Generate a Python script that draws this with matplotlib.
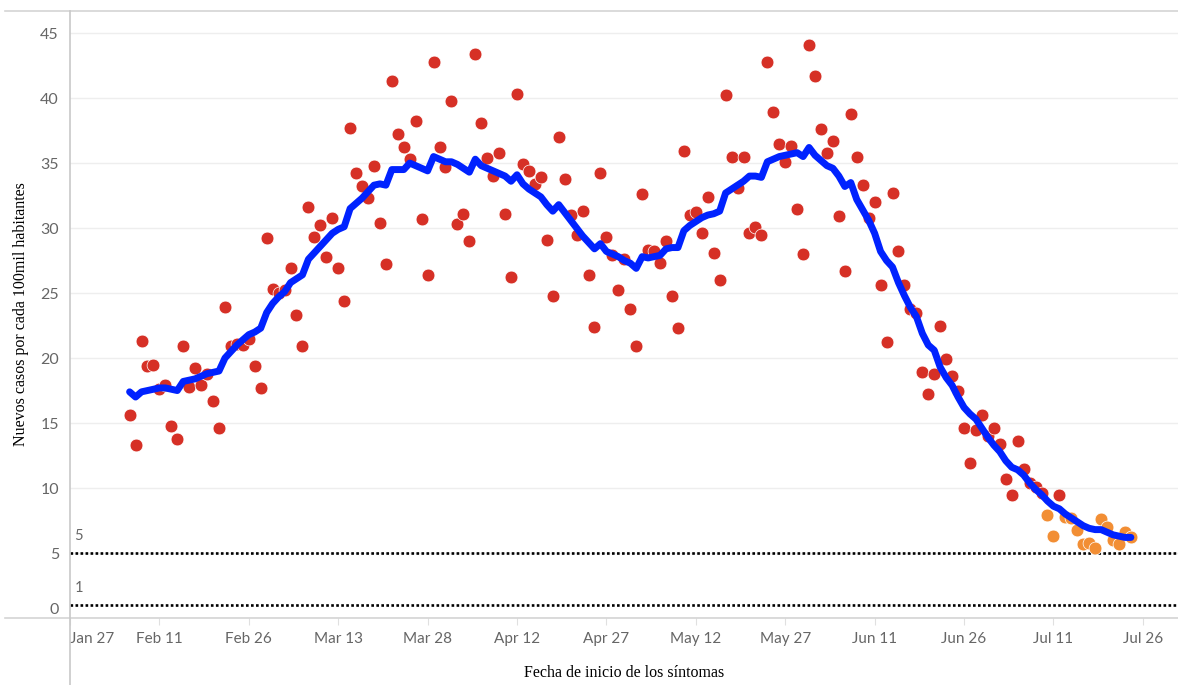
import numpy as np
import pandas as pd
import matplotlib
matplotlib.use("Agg")
import matplotlib.pyplot as plt
import matplotlib.dates as mdates
from matplotlib.lines import Line2D
from matplotlib.transforms import ScaledTranslation

# daily values, Feb 6 -> Jul 24 2021
fechas = pd.date_range("2021-02-06", "2021-07-24", freq="D")

casos = [
    15.6, 13.3, 21.3, 19.4, 19.5, 17.6, 17.9, 14.8, 13.8, 20.9, 17.8, 19.2,
    17.9, 18.8, 16.7, 14.6, 23.9, 20.9, 21.1, 21.0, 21.5, 19.4, 17.7,           # Feb
    29.2, 25.3, 25.0, 25.2, 26.9, 23.3, 20.9, 31.6, 29.3, 30.2, 27.8, 30.8,
    26.9, 24.4, 37.7, 34.2, 33.2, 32.3, 34.8, 30.4, 27.2, 41.3, 37.2, 36.2,
    35.3, 38.2, 30.7, 26.4, 42.8, 36.2, 34.7,                                   # Mar
    39.8, 30.3, 31.1, 29.0, 43.4, 38.1, 35.4, 34.0, 35.8, 31.1, 26.2, 40.3,
    34.9, 34.4, 33.4, 33.9, 29.1, 24.8, 37.0, 33.8, 31.0, 29.5, 31.3, 26.4,
    22.4, 34.2, 29.3, 27.9, 25.2, 27.6,                                         # Apr
    23.8, 20.9, 32.6, 28.3, 28.2, 27.3, 29.0, 24.8, 22.3, 35.9, 31.0, 31.2,
    29.6, 32.4, 28.1, 26.0, 40.2, 35.5, 33.1, 35.5, 29.6, 30.1, 29.5, 42.8,
    38.9, 36.5, 35.1, 36.3, 31.5, 28.0, 44.1,                                   # May
    41.7, 37.6, 35.8, 36.7, 30.9, 26.7, 38.8, 35.5, 33.3, 30.8, 32.0, 25.6,
    21.2, 32.7, 28.2, 25.6, 23.8, 23.5, 18.9, 17.2, 18.8, 22.5, 19.9, 18.6,
    17.5, 14.6, 11.9, 14.5, 15.6, 14.0,                                         # Jun
    14.6, 13.4, 10.7, 9.5, 13.6, 11.5, 10.4, 10.1, 9.6, 7.9, 6.3, 9.5,
    7.8, 7.7, 6.8, 5.7, 5.8, 5.4, 7.6, 7.0, 6.0, 5.7, 6.6, 6.2,                 # Jul
]

promedio = [
    17.4, 17.0, 17.4, 17.5, 17.6, 17.7, 17.7, 17.6, 17.5, 18.2, 18.3, 18.4,
    18.6, 18.8, 18.9, 19.0, 20.0, 20.5, 21.0, 21.4, 21.8, 22.0, 22.3,
    23.5, 24.2, 24.7, 25.1, 25.8, 26.1, 26.4, 27.6, 28.1, 28.6, 29.1, 29.6,
    29.9, 30.1, 31.5, 31.9, 32.3, 32.8, 33.3, 33.4, 33.3, 34.5, 34.5, 34.5,
    35.0, 34.8, 34.6, 34.4, 35.5, 35.3, 35.1,
    35.1, 34.9, 34.6, 34.3, 35.3, 34.8, 34.6, 34.4, 34.2, 34.0, 33.6, 34.1,
    33.4, 33.0, 32.7, 32.4, 31.8, 31.3, 31.8, 31.2, 30.6, 30.0, 29.4, 28.9,
    28.4, 28.8, 28.2, 28.0, 27.8, 27.5,
    27.3, 26.9, 27.8, 27.7, 27.8, 27.9, 28.4, 28.5, 28.5, 29.8, 30.2, 30.5,
    30.8, 31.0, 31.1, 31.3, 32.7, 33.0, 33.3, 33.6, 34.0, 34.0, 33.9, 35.1,
    35.3, 35.5, 35.6, 35.7, 35.8, 35.5, 36.2,
    35.6, 35.2, 34.8, 34.6, 34.0, 33.2, 33.5, 32.2, 31.4, 30.6, 29.6, 28.2,
    27.5, 27.0, 25.8, 24.8, 23.9, 23.2, 21.9, 21.0, 20.6, 19.3, 18.5, 17.9,
    17.0, 16.2, 15.7, 15.3, 14.6, 13.9,
    13.3, 12.8, 12.1, 11.6, 11.4, 11.0, 10.4, 9.9, 9.5, 9.0, 8.6, 8.4,
    8.0, 7.7, 7.4, 7.1, 6.9, 6.8, 6.8, 6.6, 6.4, 6.3, 6.2, 6.2,
]

# days still being consolidated (drawn in orange)
preliminares = ["2021-07-10", "2021-07-11"] + \
    [f"2021-07-{d}" for d in range(13, 25)]

referencias = [5, 1]
ticks_x = ["2021-01-27", "2021-02-11", "2021-02-26", "2021-03-13", "2021-03-28",
           "2021-04-12", "2021-04-27", "2021-05-12", "2021-05-27", "2021-06-11",
           "2021-06-26", "2021-07-11", "2021-07-26"]

ROJO = "#d63026"
NARANJA = "#f28e34"
AZUL = "#0022ff"
GRIS = "#666666"

df = pd.DataFrame({"fecha": fechas, "casos": casos, "promedio": promedio})
df["prelim"] = df["fecha"].isin(pd.to_datetime(preliminares))

fig = plt.figure(figsize=(11.78, 6.85), dpi=100)
ax = fig.add_axes([70 / 1178, 67 / 685, 1108 / 1178, 607 / 685])

sub = df[~df["prelim"]]
ax.scatter(sub["fecha"], sub["casos"], s=85, color=ROJO, edgecolors="white",
           linewidths=0.5, zorder=3)
sub = df[df["prelim"]]
ax.scatter(sub["fecha"], sub["casos"], s=85, color=NARANJA, edgecolors="white",
           linewidths=0.5, zorder=3)
ax.plot(df["fecha"], df["promedio"], color=AZUL, lw=5, zorder=4,
        solid_joinstyle="round", solid_capstyle="round")

for r in referencias:
    ax.axhline(r, color="black", lw=1.9, ls=(0, (1, 0.9)), zorder=2)
    ax.text(0.004, r + 0.75, str(r), transform=ax.get_yaxis_transform(),
            fontsize=10.5, color=GRIS, family="Lato", va="bottom", ha="left")

x0 = pd.Timestamp("2021-01-27")
ax.set_xlim(x0, x0 + pd.Timedelta(days=185.9))
ax.set_ylim(0, 46.7)

ax.set_yticks(range(0, 46, 5))
ax.yaxis.grid(True, color="#eeeeee", lw=1)
ax.set_axisbelow(True)
ax.tick_params(axis="y", length=0, pad=8, labelsize=11.5, labelcolor=GRIS)

ax.set_xticks(pd.to_datetime(ticks_x))
ax.xaxis.set_major_formatter(mdates.DateFormatter("%b %-d"))
ax.tick_params(axis="x", length=5, width=0.8, color="#e0e0e0", pad=5,
               labelsize=11, labelcolor=GRIS)

for lbl in ax.get_xticklabels() + ax.get_yticklabels():
    lbl.set_family("Lato")
ax.get_xticklabels()[0].set_ha("left")
ax.get_yticklabels()[0].set_transform(
    ax.get_yticklabels()[0].get_transform()
    + ScaledTranslation(0, 10 / 100, fig.dpi_scale_trans))

for s in ax.spines.values():
    s.set_visible(False)

# Tableau-like frame rules
fig.add_artist(Line2D([5 / 1178, 1], [1 - 11 / 685] * 2, color="#d4d4d4", lw=1.2))
fig.add_artist(Line2D([5 / 1178, 1], [67 / 685] * 2, color="#d4d4d4", lw=1.2))
fig.add_artist(Line2D([70 / 1178] * 2, [0, 1 - 11 / 685], color="#c8c8c8", lw=1.2))

ax.set_ylabel("Nuevos casos por cada 100mil habitantes", family="Liberation Serif",
              fontsize=11.5, labelpad=8)
ax.set_xlabel("Fecha de inicio de los síntomas", family="Liberation Serif",
              fontsize=11.5, labelpad=14)

fig.savefig("out.png", dpi=100)
